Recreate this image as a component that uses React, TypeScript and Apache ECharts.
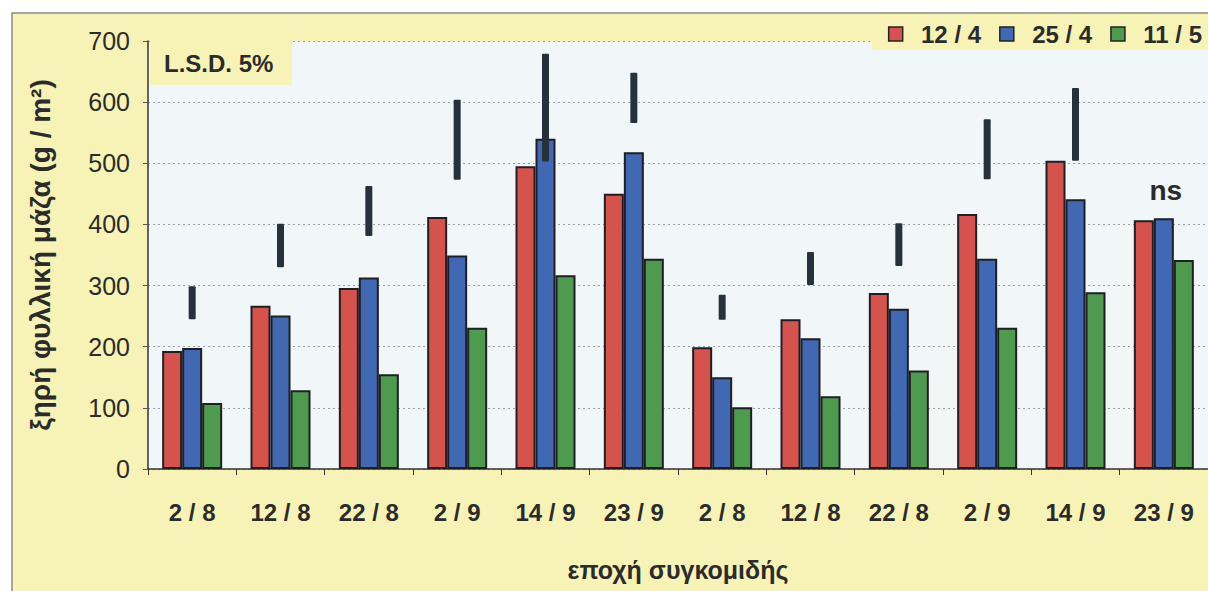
import React, { useEffect, useRef } from "react";
import * as echarts from "echarts";

// Harvest dates (two seasons, six harvests each)
const harvests = ["2 / 8", "12 / 8", "22 / 8", "2 / 9", "14 / 9", "23 / 9", "2 / 8", "12 / 8", "22 / 8", "2 / 9", "14 / 9", "23 / 9"];

// Leaf dry mass (g / m²) per sowing date
const sow1204 = [193, 267, 296, 412, 495, 450, 199, 245, 288, 417, 504, 407];
const sow2504 = [198, 251, 313, 349, 540, 518, 150, 214, 262, 344, 441, 410];
const sow1105 = [108, 129, 155, 231, 317, 344, 101, 119, 161, 231, 289, 342];

// L.S.D. 5% bars (lower and upper ends); null where the difference is not significant
const lsdLow = [245, 330, 381, 473, 503, 566, 244, 301, 332, 474, 504, null];
const lsdHigh = [299, 401, 463, 604, 679, 648, 285, 355, 402, 572, 623, null];
const lsdNote = ["", "", "", "", "", "", "", "", "", "", "", "ns"];

const yTicks = [0, 100, 200, 300, 400, 500, 600, 700];

const FONT = "'Liberation Sans', Arial, sans-serif";
const YELLOW = "#f7f3b6";
const INK = "#2b2b2b";

export default function App() {
  const ref = useRef<HTMLDivElement>(null);

  useEffect(() => {
    if (!ref.current) return;
    const chart = echarts.init(ref.current, null, { renderer: "svg" });

    const barStyle = (color: string) => ({
      color,
      borderColor: "#1e1e24",
      borderWidth: 2,
    });

    chart.setOption({
      animation: false,
      backgroundColor: "#ffffff",
      textStyle: { fontFamily: FONT },
      graphic: [
        {
          type: "rect",
          z: -10,
          shape: { x: 12, y: 13, width: 1220, height: 600 },
          style: { fill: YELLOW, stroke: "#8a8a80", lineWidth: 1.5 },
        },
        {
          type: "rect",
          z: 10,
          shape: { x: 150, y: 41, width: 142, height: 44 },
          style: { fill: YELLOW },
        },
        {
          type: "text",
          z: 11,
          x: 164,
          y: 63,
          style: {
            text: "L.S.D. 5%",
            font: `bold 24px ${FONT}`,
            fill: INK,
            verticalAlign: "middle",
          },
        },
      ],
      legend: {
        top: 18,
        right: -4,
        backgroundColor: YELLOW,
        padding: [4, 10, 4, 16],
        itemGap: 18,
        itemWidth: 14,
        itemHeight: 14,
        icon: "rect",
        itemStyle: { borderColor: "#222", borderWidth: 1.5 },
        formatter: (name: string) => "  " + name,
        textStyle: { fontSize: 24, fontWeight: "bold", color: INK, fontFamily: FONT },
        data: ["12 / 4", "25 / 4", "11 / 5"],
      },
      grid: {
        left: 148,
        top: 41,
        width: 1062,
        height: 428,
        show: true,
        backgroundColor: "#f1f6f8",
        borderWidth: 0,
      },
      xAxis: {
        type: "category",
        data: harvests,
        name: "εποχή συγκομιδής",
        nameLocation: "middle",
        nameGap: 88,
        nameTextStyle: { fontSize: 25, fontWeight: "bold", color: INK, fontFamily: FONT },
        axisLine: { lineStyle: { color: "#333", width: 1.5 } },
        axisTick: { show: true, interval: 0, length: 6, lineStyle: { color: "#333" } },
        axisLabel: { interval: 0, margin: 31, fontSize: 24, fontWeight: "bold", color: INK, fontFamily: FONT },
      },
      yAxis: {
        type: "value",
        min: yTicks[0],
        max: yTicks[yTicks.length - 1],
        interval: 100,
        name: "ξηρή φυλλική μάζα (g / m²)",
        nameLocation: "middle",
        nameRotate: 90,
        nameGap: 94,
        nameTextStyle: { fontSize: 28, fontWeight: "bold", color: INK, fontFamily: FONT },
        axisLine: { show: true, lineStyle: { color: "#333", width: 1.5 } },
        axisTick: { show: true, length: 5, lineStyle: { color: "#555" } },
        axisLabel: { margin: 18, fontSize: 25, color: INK, fontFamily: FONT },
        splitLine: { show: true, lineStyle: { type: [2, 3], color: "#9aa0a6", width: 1 } },
      },
      series: [
        {
          name: "12 / 4",
          type: "bar",
          data: sow1204,
          barWidth: 20,
          barGap: "0%",
          itemStyle: barStyle("#d6534d"),
        },
        {
          name: "25 / 4",
          type: "bar",
          data: sow2504,
          barWidth: 20,
          barGap: "0%",
          itemStyle: barStyle("#4068b3"),
        },
        {
          name: "11 / 5",
          type: "bar",
          data: sow1105,
          barWidth: 20,
          barGap: "0%",
          itemStyle: barStyle("#4e9a4e"),
        },
        {
          name: "L.S.D.",
          type: "custom",
          z: 5,
          data: harvests.map((_, i) => [i, lsdLow[i], lsdHigh[i]]),
          encode: { x: 0, y: [1, 2] },
          renderItem: (params: any, api: any) => {
            const i = params.dataIndex;
            const lo = lsdLow[i];
            const hi = lsdHigh[i];
            if (lo == null || hi == null) {
              const top = Math.max(sow1204[i], sow2504[i], sow1105[i]);
              const p = api.coord([i, top]);
              return {
                type: "text",
                style: {
                  x: p[0] + 2,
                  y: p[1] - 28,
                  text: lsdNote[i],
                  font: `bold 28px ${FONT}`,
                  fill: INK,
                  align: "center",
                  verticalAlign: "middle",
                },
              };
            }
            const a = api.coord([i, hi]);
            const b = api.coord([i, lo]);
            return {
              type: "rect",
              shape: { x: a[0] - 3.5, y: a[1], width: 7, height: b[1] - a[1], r: 1 },
              style: { fill: "#27313b" },
            };
          },
        },
      ],
    });

    return () => chart.dispose();
  }, []);

  return (
    <div
      ref={ref}
      style={{ position: "fixed", left: 0, top: 0, width: 1208, height: 591 }}
    />
  );
}
